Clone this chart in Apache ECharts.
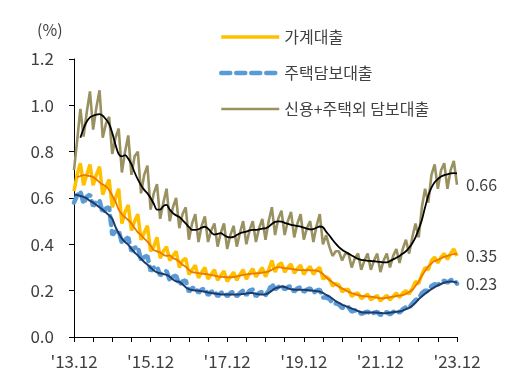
<!DOCTYPE html>
<html><head><meta charset="utf-8">
<script src="https://cdn.jsdelivr.net/npm/echarts@6/dist/echarts.min.js"></script>
<style>html,body{margin:0;padding:0;background:#fff}#c{width:527px;height:381px}</style>
</head><body><div id="c"></div>
<script>
// monthly, Dec 2013 .. Dec 2023
const startYear = 2013, startMonth = 12, nMonths = 121;
const categories = [];
for (let k = 0; k < nMonths; k++) {
  const m = (startMonth - 1 + k) % 12 + 1;
  const y = startYear + Math.floor((startMonth - 1 + k) / 12);
  categories.push("'" + String(y % 100).padStart(2, '0') + '.' + String(m).padStart(2, '0'));
}
const yTicks = [0, 0.2, 0.4, 0.6, 0.8, 1.0, 1.2];
const seriesNames = ['가계대출', '주택담보대출', '신용+주택외 담보대출'];

const householdRaw = [
.63,.70,.75,.655,.70,.745,.655,.70,.735,.615,.65,.68,
.56,.60,.64,.49,.54,.57,.46,.50,.53,.42,.45,.48,
.37,.39,.43,.34,.37,.39,.33,.35,.37,.30,.33,.34,
.27,.29,.31,.255,.28,.30,.25,.27,.29,.245,.265,.285,
.24,.26,.28,.245,.27,.29,.25,.275,.295,.26,.28,.30,
.26,.29,.33,.28,.31,.32,.28,.30,.315,.275,.295,.31,
.27,.29,.305,.27,.29,.30,.25,.26,.25,.22,.23,.225,
.195,.205,.205,.175,.185,.19,.165,.175,.185,.16,.17,.18,
.155,.168,.18,.16,.175,.19,.17,.19,.20,.185,.21,.24,
.23,.27,.30,.29,.33,.345,.32,.345,.36,.335,.36,.38,
.35];
const householdTrend = [
null,.69,.695,.699,.698,.694,.69,.68,.668,.658,.65,.635,
.61,.585,.55,.53,.517,.505,.49,.47,.452,.44,.425,.412,
.395,.375,.37,.365,.355,.35,.352,.34,.335,.325,.312,.303,
.29,.28,.278,.276,.274,.272,.27,.268,.265,.262,.26,.259,
.258,.258,.259,.262,.265,.268,.27,.272,.274,.275,.276,.278,
.28,.283,.29,.298,.302,.30,.297,.296,.294,.292,.29,.289,
.289,.289,.288,.288,.287,.282,.272,.258,.246,.236,.226,.217,
.21,.202,.195,.19,.185,.181,.178,.176,.175,.174,.172,.17,
.168,.167,.169,.172,.174,.177,.179,.181,.186,.194,.203,.22,
.24,.265,.285,.305,.318,.328,.333,.34,.346,.35,.355,.358,
.36];
const mortgageRaw = [
.58,.61,.63,.575,.605,.615,.565,.585,.59,.535,.555,.56,
.44,.455,.46,.405,.42,.43,.37,.385,.39,.33,.345,.35,
.285,.30,.305,.265,.28,.285,.245,.26,.265,.225,.24,.245,
.195,.21,.215,.19,.205,.21,.18,.195,.20,.175,.19,.195,
.175,.19,.195,.175,.19,.20,.18,.20,.205,.175,.19,.195,
.18,.20,.23,.205,.215,.225,.205,.215,.22,.195,.21,.215,
.195,.205,.21,.19,.20,.205,.17,.17,.165,.145,.145,.14,
.125,.13,.128,.11,.115,.112,.10,.105,.11,.098,.105,.108,
.095,.102,.108,.097,.108,.115,.105,.12,.128,.125,.145,.16,
.165,.19,.20,.20,.22,.228,.225,.238,.243,.235,.245,.248,
.23];
const mortgageTrend = [
.615,.613,.609,.605,.598,.588,.58,.57,.56,.549,.537,.525,
.51,.475,.448,.425,.41,.398,.38,.365,.352,.338,.324,.312,
.30,.287,.279,.275,.272,.268,.26,.248,.24,.238,.228,.215,
.207,.203,.201,.20,.198,.195,.192,.19,.188,.186,.184,.183,
.183,.183,.183,.183,.184,.186,.188,.19,.19,.187,.184,.183,
.184,.19,.20,.21,.214,.218,.216,.21,.206,.204,.204,.204,
.204,.203,.201,.20,.198,.196,.19,.182,.175,.165,.155,.147,
.14,.134,.128,.123,.118,.112,.107,.106,.106,.106,.106,.105,
.104,.103,.103,.105,.107,.109,.11,.114,.12,.126,.135,.148,
.163,.175,.187,.197,.207,.215,.223,.229,.234,.238,.24,.238,
.234];
const creditRaw = [
.72,.85,.985,.865,.97,1.06,.895,.99,1.065,.86,.92,.95,
.79,.86,.90,.71,.80,.87,.70,.78,.80,.62,.70,.74,
.55,.62,.66,.51,.58,.64,.50,.56,.60,.47,.53,.56,
.42,.49,.53,.41,.48,.52,.41,.46,.49,.39,.45,.49,
.38,.44,.48,.39,.45,.50,.40,.46,.50,.41,.47,.51,
.42,.50,.56,.44,.51,.545,.44,.50,.54,.43,.49,.53,
.42,.47,.50,.41,.48,.53,.40,.44,.39,.35,.37,.37,
.33,.36,.36,.30,.34,.36,.29,.33,.36,.29,.33,.36,
.28,.33,.36,.30,.35,.38,.32,.38,.42,.36,.43,.49,
.43,.56,.64,.58,.70,.745,.64,.72,.75,.64,.72,.76,
.657];
const creditTrend = [
null,null,.86,.90,.93,.948,.955,.96,.962,.955,.94,.92,
.88,.83,.79,.78,.785,.77,.745,.71,.68,.655,.635,.62,
.60,.575,.55,.55,.565,.57,.55,.535,.525,.518,.505,.49,
.475,.462,.462,.465,.472,.476,.468,.452,.442,.445,.448,.44,
.432,.43,.432,.44,.448,.452,.455,.46,.462,.462,.465,.468,
.469,.476,.488,.497,.499,.498,.493,.488,.484,.482,.479,.476,
.472,.468,.465,.466,.472,.477,.474,.455,.438,.42,.403,.388,
.377,.368,.36,.352,.344,.337,.333,.331,.329,.328,.327,.325,
.324,.322,.322,.328,.335,.342,.35,.36,.37,.385,.405,.43,
.465,.505,.56,.61,.645,.668,.682,.693,.699,.702,.706,.707,
.706];

const FONT = '"Noto Sans CJK KR", "Noto Sans", sans-serif';
const TXT = '#404040';
const C_HH = '#FFC000', C_MG = '#5B9BD5', C_CR = '#9A9160';
const endLbl = {show: true, color: TXT, fontSize: 16, fontFamily: FONT, distance: 9,
  formatter: p => Number(p.value).toFixed(2)};

const chart = echarts.init(document.getElementById('c'), null, {renderer: 'canvas'});
chart.setOption({
  animation: false,
  backgroundColor: '#fff',
  title: {text: '(%)', left: 32, top: 17, textStyle: {color: TXT, fontSize: 16, fontWeight: 'normal', fontFamily: FONT}},
  legend: {
    data: [
      {name: seriesNames[0], lineStyle: {color: C_HH, width: 3.5}},
      {name: seriesNames[1], lineStyle: {color: C_MG, width: 4.5, type: [9, 6], cap: 'round'}},
      {name: seriesNames[2], lineStyle: {color: C_CR, width: 2.6}}
    ],
    orient: 'vertical', left: 214, top: 24,
    itemWidth: 58, itemHeight: 16, itemGap: 20,
    itemStyle: {opacity: 0, color: 'rgba(0,0,0,0)', borderWidth: 0},
    textStyle: {color: TXT, fontSize: 16, fontFamily: FONT}
  },
  grid: {left: 74, right: 70, top: 59, bottom: 44},
  xAxis: {
    type: 'category', data: categories, boundaryGap: false,
    axisLine: {lineStyle: {color: '#000', width: 1}},
    axisTick: {interval: 5, length: 5, lineStyle: {color: '#000'}},
    axisLabel: {interval: 23, color: TXT, fontSize: 17, fontFamily: FONT, margin: 16}
  },
  yAxis: {
    type: 'value', min: yTicks[0], max: yTicks[yTicks.length-1], interval: 0.2,
    axisLine: {show: true, lineStyle: {color: '#000', width: 1}},
    axisTick: {show: true, length: 5, lineStyle: {color: '#000'}},
    splitLine: {show: false},
    axisLabel: {color: TXT, fontSize: 17, fontFamily: FONT, margin: 20, formatter: v => v.toFixed(1)}
  },
  series: [
    {name: seriesNames[2], type: 'line', data: creditRaw, symbol: 'none', z: 2,
     lineStyle: {color: C_CR, width: 2.6}, itemStyle: {color: C_CR}, endLabel: endLbl},
    {name: seriesNames[0], type: 'line', data: householdRaw, symbol: 'none', z: 2,
     lineStyle: {color: C_HH, width: 3.5}, itemStyle: {color: C_HH}, endLabel: endLbl},
    {name: seriesNames[1], type: 'line', data: mortgageRaw, symbol: 'none', z: 2,
     lineStyle: {color: C_MG, width: 4.5, type: [9, 6], cap: 'round'}, itemStyle: {color: C_MG}, endLabel: endLbl},
    {name: 'credit_trend', type: 'line', data: creditTrend, symbol: 'none', smooth: 0.3, z: 3,
     lineStyle: {color: '#000000', width: 1.8}},
    {name: 'household_trend', type: 'line', data: householdTrend, symbol: 'none', smooth: 0.3, z: 3,
     lineStyle: {color: '#EE7700', width: 1.8}},
    {name: 'mortgage_trend', type: 'line', data: mortgageTrend, symbol: 'none', smooth: 0.3, z: 3,
     lineStyle: {color: '#1F3A68', width: 2}}
  ]
});
</script></body></html>
